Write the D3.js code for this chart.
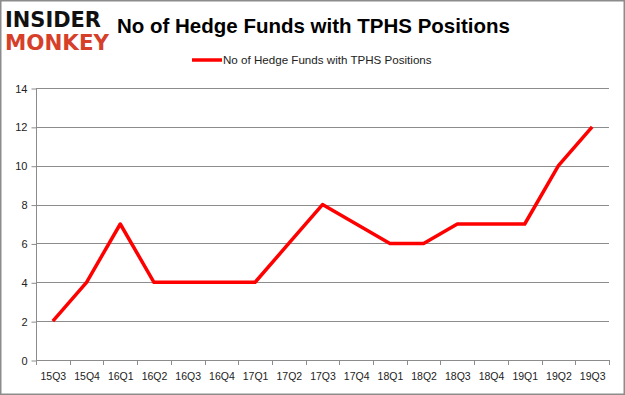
<!DOCTYPE html>
<html lang="en">
<head>
<meta charset="UTF-8">
<title>No of Hedge Funds with TPHS Positions</title>
<script src="https://d3js.org/d3.v7.min.js"></script>
<style>
    body { margin: 0; background: #fff; }
    svg { display: block; }
</style>
</head>
<body>
<svg id="chart" width="625" height="395"></svg>
<script>
// chart data
const quarters = ["15Q3","15Q4","16Q1","16Q2","16Q3","16Q4","17Q1","17Q2","17Q3","17Q4","18Q1","18Q2","18Q3","18Q4","19Q1","19Q2","19Q3"];
const funds = [2, 4, 7, 4, 4, 4, 4, 6, 8, 7, 6, 6, 7, 7, 7, 10, 12];
const yTicks = [0, 2, 4, 6, 8, 10, 12, 14];
const seriesName = "No of Hedge Funds with TPHS Positions";

const svg = d3.select("#chart");
const W = 625, H = 395;
const font = "'Liberation Sans', Arial, sans-serif";

// outer frame
svg.append("rect")
    .attr("x", 0.75).attr("y", 0.75)
    .attr("width", W - 1.5).attr("height", H - 1.5)
    .attr("fill", "#fff")
    .attr("stroke", "#8c8c8c")
    .attr("stroke-width", 1.5);

const plot = {left: 36, right: 609, top: 88, bottom: 360};

const x = d3.scaleBand().domain(quarters).range([plot.left, plot.right]);
const y = d3.scaleLinear().domain([0, 14]).range([plot.bottom, plot.top]);

// grid lines
svg.append("g")
    .selectAll("line")
    .data(yTicks.filter(t => t > 0))
    .join("line")
    .attr("x1", plot.left).attr("x2", plot.right)
    .attr("y1", d => Math.round(y(d)) + 0.5).attr("y2", d => Math.round(y(d)) + 0.5)
    .attr("stroke", "#8c8c8c").attr("stroke-width", 1);

// y axis
const yAxis = svg.append("g")
    .attr("transform", `translate(${plot.left + 0.5},0.5)`)
    .call(d3.axisLeft(y).tickValues(yTicks).tickSize(5).tickPadding(4).tickFormat(d3.format("d")));
yAxis.select(".domain").attr("stroke", "#8c8c8c").attr("d", `M0,${plot.top}V${plot.bottom}`);
yAxis.selectAll(".tick line").attr("stroke", "#8c8c8c");
yAxis.selectAll(".tick text").attr("fill", "#222").style("font", `11px ${font}`);

// x axis
const xAxis = svg.append("g")
    .attr("transform", `translate(0.5,${plot.bottom + 0.5})`)
    .call(d3.axisBottom(x).tickSize(0).tickPadding(12));
xAxis.select(".domain").attr("stroke", "#8c8c8c").attr("d", `M${plot.left},0H${plot.right}`);
xAxis.selectAll(".tick text").attr("fill", "#222").style("font", `10.5px ${font}`);
// tick marks sit on band boundaries
svg.append("g")
    .selectAll("line")
    .data(quarters.concat([null]))
    .join("line")
    .attr("x1", (d, i) => Math.round(plot.left + i * x.step()) + 0.5)
    .attr("x2", (d, i) => Math.round(plot.left + i * x.step()) + 0.5)
    .attr("y1", plot.bottom).attr("y2", plot.bottom + 5)
    .attr("stroke", "#8c8c8c");

// series line
const line = d3.line()
    .x((d, i) => x(quarters[i]) + x.bandwidth() / 2)
    .y(d => y(d));
svg.append("path")
    .datum(funds)
    .attr("d", line)
    .attr("fill", "none")
    .attr("stroke", "#ff0000")
    .attr("stroke-width", 3.5)
    .attr("stroke-linejoin", "round");

// legend
svg.append("line")
    .attr("x1", 192).attr("x2", 222)
    .attr("y1", 60).attr("y2", 60)
    .attr("stroke", "#ff0000").attr("stroke-width", 3.5);
svg.append("text")
    .attr("x", 223).attr("y", 64)
    .attr("fill", "#222")
    .style("font", `11.6px ${font}`)
    .text(seriesName);

// title
svg.append("text")
    .attr("x", 117).attr("y", 33)
    .attr("fill", "#000")
    .style("font", `bold 20.5px ${font}`)
    .text("No of Hedge Funds with TPHS Positions");

// logo
svg.append("text")
    .attr("x", 5).attr("y", 27)
    .attr("fill", "#111")
    .style("font", `900 22px 'DejaVu Sans', sans-serif`)
    .attr("textLength", 96).attr("lengthAdjust", "spacingAndGlyphs")
    .text("INSIDER");
svg.append("text")
    .attr("x", 5).attr("y", 50)
    .attr("fill", "#d6402a")
    .style("font", `900 22px 'DejaVu Sans', sans-serif`)
    .attr("textLength", 104).attr("lengthAdjust", "spacingAndGlyphs")
    .text("MONKEY");
</script>
</body>
</html>
